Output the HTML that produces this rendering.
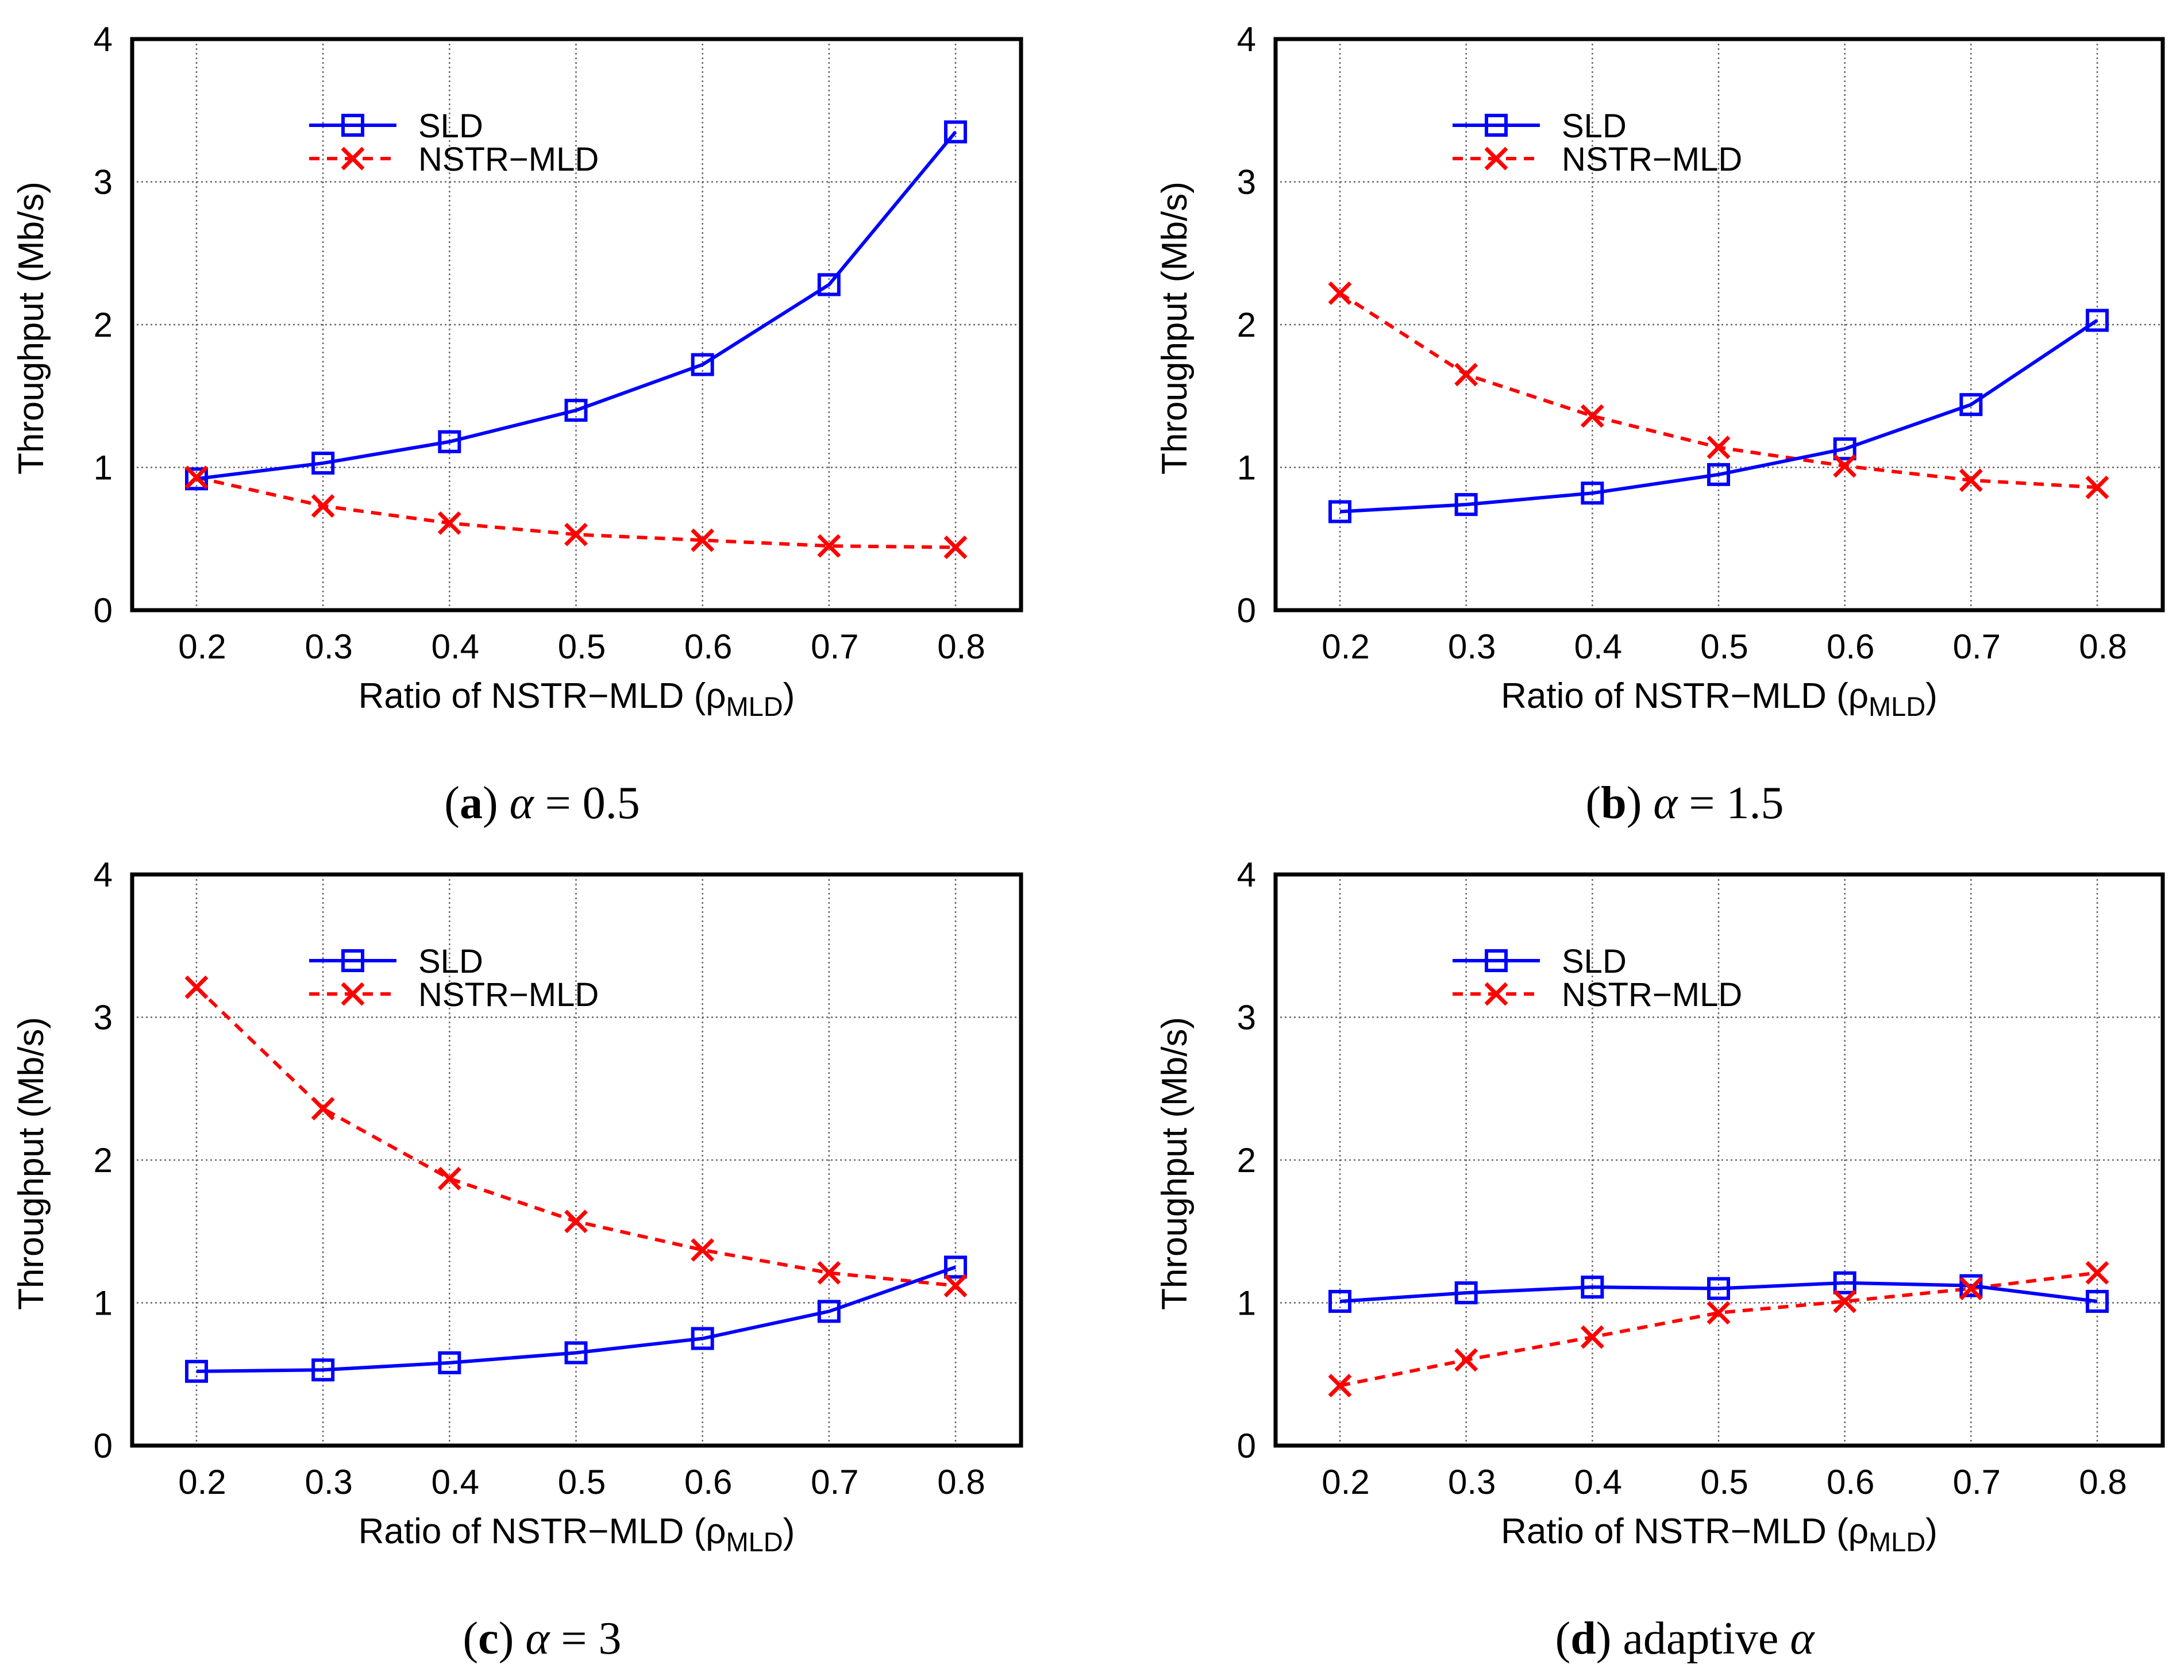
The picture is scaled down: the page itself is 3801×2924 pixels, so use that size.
<!DOCTYPE html>
<html><head><meta charset="utf-8"><style>
html,body{margin:0;padding:0;background:#fff}
svg{display:block}
text{font-family:"Liberation Sans",sans-serif}
.cap{font-family:"Liberation Serif",serif}
</style></head><body>
<svg id="fig" width="3801" height="2924" viewBox="0 0 3801 2924" xmlns="http://www.w3.org/2000/svg"></svg>
<script>
const categories=[0.2,0.3,0.4,0.5,0.6,0.7,0.8];
const yTicks=[0,1,2,3,4];
const sldA=[0.92,1.03,1.18,1.40,1.72,2.28,3.35];
const nstrA=[0.93,0.73,0.61,0.53,0.49,0.45,0.44];
const sldB=[0.69,0.74,0.82,0.95,1.13,1.44,2.03];
const nstrB=[2.22,1.65,1.36,1.14,1.01,0.91,0.86];
const sldC=[0.52,0.53,0.58,0.65,0.75,0.94,1.25];
const nstrC=[3.21,2.36,1.87,1.57,1.37,1.21,1.12];
const sldD=[1.01,1.07,1.11,1.10,1.14,1.12,1.01];
const nstrD=[0.42,0.60,0.76,0.93,1.01,1.10,1.21];
const captions=[["(a)"," α = 0.5"],["(b)"," α = 1.5"],["(c)"," α = 3"],["(d)"," adaptive α"]];
const NS="http://www.w3.org/2000/svg";
const svg=document.getElementById('fig');
function mk(tag,attrs,parent){const e=document.createElementNS(NS,tag);for(const k in attrs)e.setAttribute(k,attrs[k]);(parent||svg).appendChild(e);return e;}
const panels=[
 {L:230,R:1777,T:68,B:1062,s:sldA,n:nstrA,id:'a'},
 {L:2220,R:3764,T:68,B:1062,s:sldB,n:nstrB,id:'b'},
 {L:230,R:1777,T:1522,B:2516,s:sldC,n:nstrC,id:'c'},
 {L:2220,R:3764,T:1522,B:2516,s:sldD,n:nstrD,id:'d'}];
panels.forEach((p,pi)=>{
 const g=mk('g',{});
 
 
 const x0=p.L+112,x1=p.R-114;
 const xs=v=>x0+(v-0.2)/0.6*(x1-x0);
 const ys=v=>p.B-v/4*(p.B-p.T);
 yTicks.forEach(t=>{
  if(t>0&&t<4){const l=mk('line',{x1:p.L,x2:p.R,y1:ys(t),y2:ys(t),stroke:'#666','stroke-width':2.5,'stroke-dasharray':'3,5'},g);
   }
  const tx=mk('text',{x:p.L-34,y:ys(t)+21,'font-size':60,'text-anchor':'end'},g);tx.textContent=t;
  
 });
 categories.forEach(c=>{
  const l=mk('line',{x1:xs(c),x2:xs(c),y1:p.T,y2:p.B,stroke:'#666','stroke-width':2.5,'stroke-dasharray':'3,5'},g);
  
  const tx=mk('text',{x:xs(c)+10,y:p.B+84,'font-size':60,'text-anchor':'middle'},g);tx.textContent=c.toFixed(1);
  
 });
 const fr=mk('rect',{x:p.L,y:p.T,width:p.R-p.L,height:p.B-p.T,fill:'none',stroke:'#000','stroke-width':7},g);
 
 const yl=mk('text',{x:0,y:0,'font-size':62,'text-anchor':'middle',transform:`translate(${p.L-155},${(p.T+p.B)/2+6}) rotate(-90)`},g);
 yl.textContent='Throughput (Mb/s)';
 
 const xl=mk('text',{x:(p.L+p.R)/2,y:p.B+170,'font-size':62,'text-anchor':'middle'},g);
 xl.innerHTML='Ratio of NSTR−MLD (ρ<tspan font-size="47" dy="14">MLD</tspan><tspan dy="-14">)</tspan>';
 
 const nl=mk('polyline',{points:p.n.map((v,i)=>xs(categories[i])+','+ys(v)).join(' '),fill:'none',stroke:'#f00','stroke-width':6,'stroke-dasharray':'18,13'},g);
 
 const sl=mk('polyline',{points:p.s.map((v,i)=>xs(categories[i])+','+ys(v)).join(' '),fill:'none',stroke:'#00f','stroke-width':6},g);
 
 const cross=(cx,cy,name)=>{const pth=mk('path',{d:`M${cx-18},${cy-18}L${cx+18},${cy+18}M${cx-18},${cy+18}L${cx+18},${cy-18}`,stroke:'#f00','stroke-width':7,fill:'none'},g);
  };
 const sq=(cx,cy,name)=>{const r=mk('rect',{x:cx-17,y:cy-17,width:34,height:34,fill:'none',stroke:'#00f','stroke-width':6},g);
  };
 p.s.forEach((v,i)=>sq(xs(categories[i]),ys(v),'sld-point'));
 p.n.forEach((v,i)=>cross(xs(categories[i]),ys(v),'nstr-mld-point'));
 const lx=p.L+308,ly1=p.T+150,ly2=p.T+208;
 const ls=mk('line',{x1:lx,x2:lx+152,y1:ly1,y2:ly1,stroke:'#00f','stroke-width':6},g);
 
 sq(lx+76,ly1,'legend-sld-marker');
 const ln=mk('line',{x1:lx,x2:lx+152,y1:ly2,y2:ly2,stroke:'#f00','stroke-width':6,'stroke-dasharray':'18,13'},g);
 
 cross(lx+76,ly2,'legend-nstr-marker');
 const t1=mk('text',{x:lx+190,y:ly1+21,'font-size':58},g);t1.textContent='SLD';
 
 const t2=mk('text',{x:lx+190,y:ly2+21,'font-size':58},g);t2.textContent='NSTR−MLD';
 
 const cap=mk('text',{x:(p.L+p.R)/2-60,y:p.B+362,'font-size':80,'text-anchor':'middle','class':'cap'},g);
 cap.innerHTML='(<tspan font-weight="bold">'+captions[pi][0].slice(1,2)+'</tspan>)'+captions[pi][1].replace(/α/g,'<tspan font-style="italic">α</tspan>');
 
});
</script>
</body></html>
